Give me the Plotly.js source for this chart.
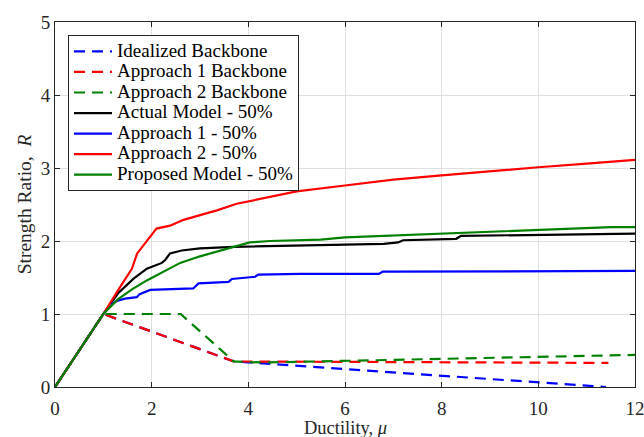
<!DOCTYPE html>
<html>
<head>
<meta charset="utf-8">
<script src="https://cdn.plot.ly/plotly-3.0.1.min.js"></script>
<style>html,body{margin:0;padding:0;background:#fff;}#chart{width:644px;height:437px;}</style>
</head>
<body>
<div id="chart"></div>
<script>
// Series names
const seriesNames = [
  "Idealized Backbone",
  "Approach 1 Backbone",
  "Approach 2 Backbone",
  "Actual Model - 50%",
  "Approach 1 - 50%",
  "Approach 2 - 50%",
  "Proposed Model - 50%"
];

// Backbones
const idealX = [0, 1, 3.7, 11.4];
const idealY = [0, 1, 0.35, 0];

const app1BbX = [0, 1, 3.7, 11.45];
const app1BbY = [0, 1, 0.35, 0.33];

const app2BbX = [0, 1, 2.6, 3.7, 4.3, 12];
const app2BbY = [0, 1, 1, 0.35, 0.335, 0.44];

// Actual model
const actualX = [0, 1, 1.3, 1.62, 1.90, 2.07, 2.21, 2.28, 2.38, 2.62, 3.0, 3.7, 4.45, 6, 6.8, 7.1, 7.2, 8.3, 8.4, 12];
const actualY = [0, 1, 1.28, 1.48, 1.62, 1.67, 1.70, 1.74, 1.83, 1.87, 1.90, 1.92, 1.93, 1.95, 1.96, 1.98, 2.01, 2.03, 2.07, 2.10];

// Approach 1 - 50%
const app1X = [0, 1, 1.14, 1.28, 1.45, 1.62, 1.69, 1.75, 1.83, 1.97, 2.86, 2.97, 3.59, 3.66, 4.14, 4.21, 5.07, 6.7, 6.78, 12];
const app1Y = [0, 1, 1.12, 1.18, 1.21, 1.22, 1.23, 1.27, 1.29, 1.33, 1.35, 1.42, 1.44, 1.48, 1.51, 1.54, 1.55, 1.55, 1.58, 1.59];

// Approach 2 - 50%
const app2X = [0, 1, 1.3, 1.45, 1.59, 1.70, 1.93, 2.10, 2.38, 2.66, 2.93, 3.35, 3.76, 4.45, 5, 6, 7, 8, 9, 10, 11, 12];
const app2Y = [0, 1, 1.32, 1.47, 1.62, 1.83, 2.03, 2.17, 2.21, 2.29, 2.34, 2.42, 2.51, 2.61, 2.68, 2.76, 2.84, 2.90, 2.96, 3.01, 3.06, 3.11];

// Proposed model - 50%
const propX = [0, 1, 1.3, 1.6, 1.9, 2.25, 2.59, 3.0, 3.4, 3.69, 4.03, 4.45, 5.5, 6, 8, 10, 11.5, 12];
const propY = [0, 1, 1.2, 1.34, 1.46, 1.58, 1.70, 1.79, 1.86, 1.92, 1.98, 2.00, 2.02, 2.05, 2.10, 2.16, 2.19, 2.19];

const xTicks = [0, 2, 4, 6, 8, 10, 12];
const yTicks = [0, 1, 2, 3, 4, 5];
const xTitle = "Ductility, <i>μ</i>";
const yTitle = "Strength Ratio,\u00a0 <i>R</i>";

const serif = "Liberation Serif";
const dashPat = "11px,7px";
function lbl(s){ return '<span style="font-size:19px">' + s + '</span>'; }

const traces = [
  {x: idealX, y: idealY, color: "#0000ff", dash: dashPat, name: seriesNames[0]},
  {x: app1BbX, y: app1BbY, color: "#ff0000", dash: dashPat, name: seriesNames[1]},
  {x: app2BbX, y: app2BbY, color: "#008000", dash: dashPat, name: seriesNames[2]},
  {x: actualX, y: actualY, color: "#000000", dash: "solid", name: seriesNames[3]},
  {x: app1X, y: app1Y, color: "#0000ff", dash: "solid", name: seriesNames[4]},
  {x: app2X, y: app2Y, color: "#ff0000", dash: "solid", name: seriesNames[5]},
  {x: propX, y: propY, color: "#008000", dash: "solid", name: seriesNames[6]}
].map(t => ({
  type: "scatter", mode: "lines", x: t.x, y: t.y, name: lbl(t.name),
  line: {color: t.color, width: 2.2, dash: t.dash}
}));

function axis(extra) {
  return Object.assign({
    showline: true, linecolor: "#262626", linewidth: 1, mirror: "ticks",
    ticks: "inside", ticklen: 5, tickcolor: "#262626", tickwidth: 1,
    showgrid: true, gridcolor: "#e0e0e0", gridwidth: 1, zeroline: false,
    tickfont: {family: serif, size: 19, color: "#262626"},
    ticklabeloverflow: "allow"
  }, extra);
}

const layout = {
  width: 644, height: 437,
  margin: {l: 55, r: 9, t: 22, b: 50, autoexpand: false},
  paper_bgcolor: "#ffffff", plot_bgcolor: "#ffffff",
  font: {family: serif, size: 19, color: "#262626"},
  xaxis: axis({
    range: [0, 12], tickmode: "array", tickvals: xTicks, ticktext: xTicks.map(String), ticklabelstandoff: 4
  }),
  yaxis: axis({
    range: [0, 5], tickmode: "array", tickvals: yTicks, ticktext: yTicks.map(String),
    title: {text: yTitle, font: {family: serif, size: 19.5, color: "#262626"}, standoff: 3}
  }),
  annotations: [{
    text: xTitle, xref: "paper", yref: "paper", x: 0.5, y: 0,
    xanchor: "center", yanchor: "middle", yshift: -41, showarrow: false,
    font: {family: serif, size: 18.5, color: "#262626"}
  }],
  showlegend: true,
  legend: {
    x: 0.0224, y: 0.964, xanchor: "left", yanchor: "top",
    bgcolor: "#ffffff", bordercolor: "#262626", borderwidth: 1,
    font: {family: serif, size: 13.5, color: "#000000"},
    itemwidth: 38,
    tracegroupgap: 0
  }
};

Plotly.newPlot("chart", traces, layout, {staticPlot: true, displayModeBar: false});
</script>
</body>
</html>
